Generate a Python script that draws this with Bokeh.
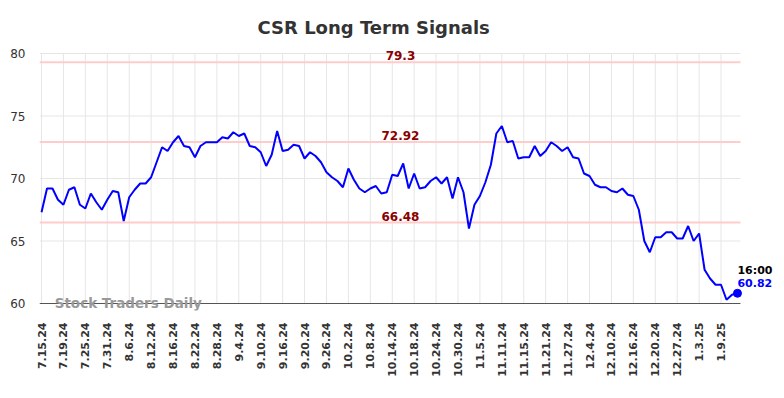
from bokeh.plotting import figure
from bokeh.models import FixedTicker, Label, Range1d
from bokeh.embed import file_html
from bokeh.resources import INLINE

prices = [67.3, 69.2, 69.2, 68.3, 67.9, 69.1, 69.3, 67.9, 67.6, 68.8,
          68.1, 67.5, 68.3, 69.0, 68.9, 66.6, 68.5, 69.1, 69.6, 69.6,
          70.1, 71.3, 72.5, 72.2, 72.9, 73.4, 72.6, 72.5, 71.7, 72.6,
          72.9, 72.9, 72.9, 73.3, 73.2, 73.7, 73.4, 73.6, 72.6, 72.5,
          72.1, 71.0, 71.9, 73.8, 72.2, 72.3, 72.7, 72.6, 71.6, 72.1,
          71.8, 71.3, 70.5, 70.1, 69.8, 69.3, 70.8, 69.9, 69.2, 68.9,
          69.2, 69.4, 68.8, 68.9, 70.3, 70.2, 71.2, 69.2, 70.4, 69.2,
          69.3, 69.8, 70.1, 69.6, 70.1, 68.4, 70.1, 68.9, 66.0, 67.9,
          68.6, 69.7, 71.1, 73.6, 74.2, 72.9, 73.0, 71.6, 71.7, 71.7,
          72.6, 71.8, 72.2, 72.9, 72.6, 72.2, 72.5, 71.7, 71.6, 70.4,
          70.2, 69.5, 69.3, 69.3, 69.0, 68.9, 69.2, 68.7, 68.6, 67.5,
          65.0, 64.1, 65.3, 65.3, 65.7, 65.7, 65.2, 65.2, 66.2, 65.0,
          65.6, 62.7, 62.0, 61.5, 61.5, 60.3, 60.7, 60.82]

tick_labels = ["7.15.24", "7.19.24", "7.25.24", "7.31.24", "8.6.24", "8.12.24",
               "8.16.24", "8.22.24", "8.28.24", "9.4.24", "9.10.24", "9.16.24",
               "9.20.24", "9.26.24", "10.2.24", "10.8.24", "10.14.24", "10.18.24",
               "10.24.24", "10.30.24", "11.5.24", "11.11.24", "11.15.24", "11.21.24",
               "11.27.24", "12.4.24", "12.10.24", "12.16.24", "12.20.24", "12.27.24",
               "1.3.25", "1.9.25"]
tick_step = 4
y_ticks = [60, 65, 70, 75, 80]

levels = [79.3, 72.92, 66.48]
level_labels = ["79.3", "72.92", "66.48"]

last_time = "16:00"
last_price = 60.82
watermark = "Stock Traders Daily"

FONT = "DejaVu Sans"
xs = list(range(len(prices)))
x_ticks = [i * tick_step for i in range(len(tick_labels))]

# plot area extents (data units); the frame is a bit larger so texts are not clipped
x_lo, x_hi = -0.37, len(prices) - 0.45
y_lo, y_hi = y_ticks[0], y_ticks[-1]

p = figure(width=776, height=390, output_backend="svg", toolbar_location=None,
           min_border_left=39, min_border_right=1, min_border_top=46,
           min_border_bottom=80,
           x_range=Range1d(x_lo, 133.94), y_range=Range1d(59.44, 80.56))
p.title.text = "CSR Long Term Signals"
p.title.align = "left"
p.title.offset = 218
p.title.text_font = FONT
p.title.text_font_size = "18px"
p.title.text_font_style = "bold"
p.title.text_color = "#333333"
p.title.standoff = 17
p.outline_line_color = None
p.background_fill_color = "white"
p.border_fill_color = "white"
p.xgrid.grid_line_color = None
p.ygrid.grid_line_color = None

# manual grid (limited to the plot area)
p.segment(x0=x_ticks, y0=[y_lo] * len(x_ticks), x1=x_ticks, y1=[y_hi] * len(x_ticks),
          line_color="#e6e6e6", line_width=1)
p.segment(x0=[x_lo] * (len(y_ticks) - 1), y0=y_ticks[1:], x1=[x_hi] * (len(y_ticks) - 1),
          y1=y_ticks[1:], line_color="#e6e6e6", line_width=1)

# x axis
p.xaxis.ticker = FixedTicker(ticks=x_ticks)
p.xaxis.major_label_overrides = {t: lab for t, lab in zip(x_ticks, tick_labels)}
p.xaxis.major_label_orientation = 1.5708
p.xaxis.major_label_text_font = FONT
p.xaxis.major_label_text_font_size = "11px"
p.xaxis.major_label_text_font_style = "bold"
p.xaxis.major_label_text_color = "#333333"
p.xaxis.major_tick_line_color = None
p.xaxis.minor_tick_line_color = None
p.xaxis.major_tick_out = 0
p.xaxis.major_label_standoff = 12
p.xaxis.axis_line_color = None

# y axis
p.yaxis.ticker = FixedTicker(ticks=y_ticks)
p.yaxis.major_label_text_font = FONT
p.yaxis.major_label_text_font_size = "12px"
p.yaxis.major_label_text_color = "#333333"
p.yaxis.axis_line_color = None
p.yaxis.major_tick_line_color = None
p.yaxis.minor_tick_line_color = None
p.yaxis.major_tick_out = 0
p.yaxis.major_label_standoff = 14

# level lines
p.segment(x0=[x_lo] * len(levels), y0=levels, x1=[x_hi] * len(levels), y1=levels,
          line_color="#ffcccc", line_width=2)
for lv, lab in zip(levels, level_labels):
    p.add_layout(Label(x=65.5, y=lv, text=lab, text_align="center", text_baseline="bottom",
                       y_offset=2, text_font=FONT, text_font_size="12px",
                       text_font_style="bold", text_color="#8b0000"))

# bottom axis line
p.segment(x0=[x_lo], y0=[y_lo], x1=[x_hi], y1=[y_lo], line_color="#555555", line_width=1)

# watermark
p.add_layout(Label(x=2.4, y=y_lo, text=watermark, text_baseline="middle", y_offset=1,
                   text_font=FONT, text_font_size="13.5px", text_font_style="bold",
                   text_color="#999999"))

# price line
p.line(xs, prices, line_color="#0000ff", line_width=2)
p.scatter([xs[-1]], [prices[-1]], size=8, color="#0000ff")

# end labels
p.add_layout(Label(x=xs[-1], y=last_price, text=last_time, text_align="left",
                   text_baseline="middle", y_offset=23, text_font=FONT,
                   text_font_size="11px", text_font_style="bold", text_color="#000000"))
p.add_layout(Label(x=xs[-1], y=last_price, text=f"{last_price:.2f}", text_align="left",
                   text_baseline="middle", y_offset=10, text_font=FONT,
                   text_font_size="11px", text_font_style="bold", text_color="#0000ff"))

open("out.html", "w").write(file_html(p, INLINE))
